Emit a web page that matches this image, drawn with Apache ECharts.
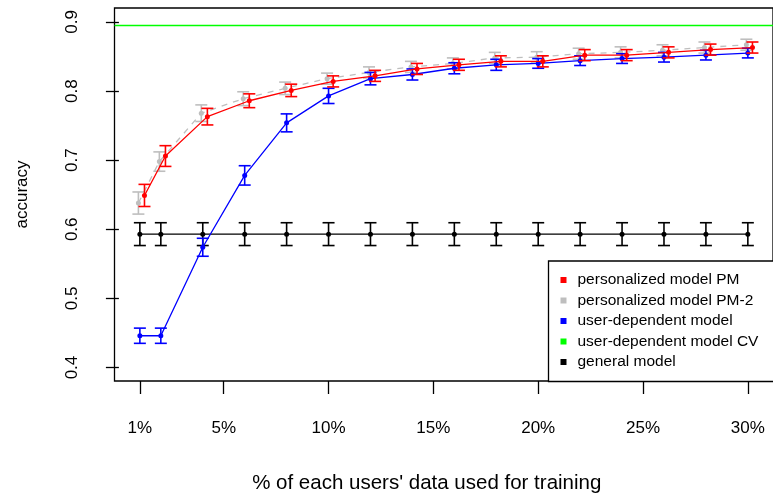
<!DOCTYPE html>
<html>
<head>
<meta charset="utf-8">
<script src="https://cdn.jsdelivr.net/npm/echarts@6/dist/echarts.min.js"></script>
<style>
  html, body { margin: 0; padding: 0; background: #fff; }
  #chart { width: 773px; height: 499px; }
</style>
</head>
<body>
<div id="chart"></div>
<script>
// Share of each user's data used for training (%)
const trainPct = [1, 2, 4, 6, 8, 10, 12, 14, 16, 18, 20, 22, 24, 26, 28, 30];
const xTicks = [1, 5, 10, 15, 20, 25, 30];
const yTicks = [0.4, 0.5, 0.6, 0.7, 0.8, 0.9];

// Mean accuracy per model
const pmAcc      = [0.649, 0.706, 0.763, 0.786, 0.801, 0.814, 0.822, 0.832, 0.838, 0.843, 0.843, 0.852, 0.852, 0.856, 0.860, 0.863];
const pm2Acc     = [0.638, 0.698, 0.768, 0.789, 0.804, 0.818, 0.827, 0.835, 0.840, 0.848, 0.849, 0.854, 0.856, 0.859, 0.863, 0.867];
const userDepAcc = [0.446, 0.446, 0.574, 0.678, 0.754, 0.793, 0.818, 0.824, 0.833, 0.838, 0.840, 0.844, 0.847, 0.849, 0.852, 0.855];
const generalAcc = [0.593, 0.593, 0.593, 0.593, 0.593, 0.593, 0.593, 0.593, 0.593, 0.593, 0.593, 0.593, 0.593, 0.593, 0.593, 0.593];
const userDepCvAcc = 0.895;

// Half-widths of the error bars
const pmErr      = [0.016, 0.015, 0.012, 0.010, 0.009, 0.008, 0.008, 0.008, 0.008, 0.008, 0.008, 0.008, 0.008, 0.008, 0.008, 0.008];
const pm2Err     = [0.016, 0.014, 0.012, 0.010, 0.009, 0.008, 0.008, 0.008, 0.008, 0.008, 0.008, 0.008, 0.008, 0.008, 0.008, 0.008];
const userDepErr = [0.011, 0.011, 0.013, 0.014, 0.013, 0.011, 0.009, 0.008, 0.008, 0.008, 0.007, 0.007, 0.007, 0.007, 0.007, 0.007];
const generalErr = [0.0165, 0.0165, 0.0165, 0.0165, 0.0165, 0.0165, 0.0165, 0.0165, 0.0165, 0.0165, 0.0165, 0.0165, 0.0165, 0.0165, 0.0165, 0.0165];

const names = ['personalized model PM', 'personalized model PM-2', 'user-dependent model', 'user-dependent model CV', 'general model'];

const X_MIN = -0.21, X_MAX = 31.2;
const FONT = 'Liberation Sans, Arial, sans-serif';

function lineSeries(name, color, ys, dx, z, extra) {
  return Object.assign({
    type: 'line',
    name: name,
    data: trainPct.map((x, i) => [x + dx, ys[i]]),
    symbol: 'circle',
    symbolSize: 5,
    showSymbol: true,
    itemStyle: { color: color },
    lineStyle: { color: color, width: 1.3 },
    z: z,
    animation: false
  }, extra || {});
}

function errorSeries(name, color, ys, errs, dx, z) {
  return {
    type: 'custom',
    name: name + ' (error)',
    data: trainPct.map((x, i) => [x + dx, ys[i] - errs[i], ys[i] + errs[i]]),
    encode: { x: 0, y: [1, 2] },
    z: z,
    animation: false,
    renderItem: function (params, api) {
      const x = api.value(0);
      const lo = api.coord([x, api.value(1)]);
      const hi = api.coord([x, api.value(2)]);
      const hw = 6;
      const style = { stroke: color, lineWidth: 1.6, fill: null };
      return {
        type: 'group',
        children: [
          { type: 'line', shape: { x1: hi[0], y1: hi[1], x2: lo[0], y2: lo[1] }, style: style },
          { type: 'line', shape: { x1: hi[0] - hw, y1: hi[1], x2: hi[0] + hw, y2: hi[1] }, style: style },
          { type: 'line', shape: { x1: lo[0] - hw, y1: lo[1], x2: lo[0] + hw, y2: lo[1] }, style: style }
        ]
      };
    }
  };
}

const RED = '#ff0000', GRAY = '#bebebe', BLUE = '#0000ff', GREEN = '#00ff00', BLACK = '#000000';

const option = {
  backgroundColor: '#ffffff',
  animation: false,
  textStyle: { fontFamily: FONT },
  grid: {
    left: 114.5, top: 8, right: -3.3, bottom: 117.5,
    show: true, borderColor: '#000', borderWidth: 1.3, backgroundColor: 'transparent'
  },
  xAxis: {
    type: 'value',
    min: X_MIN, max: X_MAX,
    splitLine: { show: false },
    axisLine: { show: false },
    axisTick: { show: true, length: 13, lineStyle: { color: '#000', width: 1.3 }, customValues: xTicks },
    axisLabel: {
      customValues: xTicks, formatter: v => v + '%',
      color: '#000', fontSize: 17, fontFamily: FONT, margin: 39
    },
    name: "% of each users' data used for training",
    nameLocation: 'middle', nameGap: 92,
    nameTextStyle: { color: '#000', fontSize: 20.5, fontFamily: FONT, padding: [0, 34, 0, 0] }
  },
  yAxis: {
    type: 'value',
    min: 0.3805, max: 0.9202,
    splitLine: { show: false },
    axisLine: { show: false },
    axisTick: { show: true, length: 13, lineStyle: { color: '#000', width: 1.3 }, customValues: yTicks },
    axisLabel: {
      customValues: yTicks, formatter: v => v.toFixed(1),
      rotate: 90, color: '#000', fontSize: 17, fontFamily: FONT, margin: 34
    },
    name: 'accuracy',
    nameLocation: 'middle', nameRotate: 90, nameGap: 84,
    nameTextStyle: { color: '#000', fontSize: 17, fontFamily: FONT }
  },
  legend: {
    data: names,
    orient: 'vertical',
    left: 548.5, top: 261,
    padding: [9, 40, 9.5, 12],
    itemGap: 0.5,
    itemWidth: 6, itemHeight: 6,
    icon: 'rect',
    backgroundColor: '#ffffff',
    borderColor: '#000', borderWidth: 1.3, borderRadius: 0,
    textStyle: { color: '#000', fontSize: 15.5, fontFamily: FONT, lineHeight: 20, padding: [0, 0, 0, 6] },
    z: 20
  },
  series: [
    lineSeries(names[4], BLACK, generalAcc, 0, 2),
    errorSeries(names[4], BLACK, generalAcc, generalErr, 0, 2),
    lineSeries(names[1], GRAY, pm2Acc, -0.07, 3, { lineStyle: { color: GRAY, width: 1.3, type: [6, 6] } }),
    errorSeries(names[1], GRAY, pm2Acc, pm2Err, -0.07, 3),
    lineSeries(names[2], BLUE, userDepAcc, 0, 4),
    errorSeries(names[2], BLUE, userDepAcc, userDepErr, 0, 4),
    lineSeries(names[0], RED, pmAcc, 0.22, 5),
    errorSeries(names[0], RED, pmAcc, pmErr, 0.22, 5),
    {
      type: 'line',
      name: names[3],
      data: [[X_MIN, userDepCvAcc], [X_MAX, userDepCvAcc]],
      symbol: 'none',
      itemStyle: { color: GREEN },
      lineStyle: { color: GREEN, width: 1.5 },
      z: 6,
      animation: false
    }
  ]
};

const chart = echarts.init(document.getElementById('chart'), null, { renderer: 'canvas' });
chart.setOption(option);
</script>
</body>
</html>
